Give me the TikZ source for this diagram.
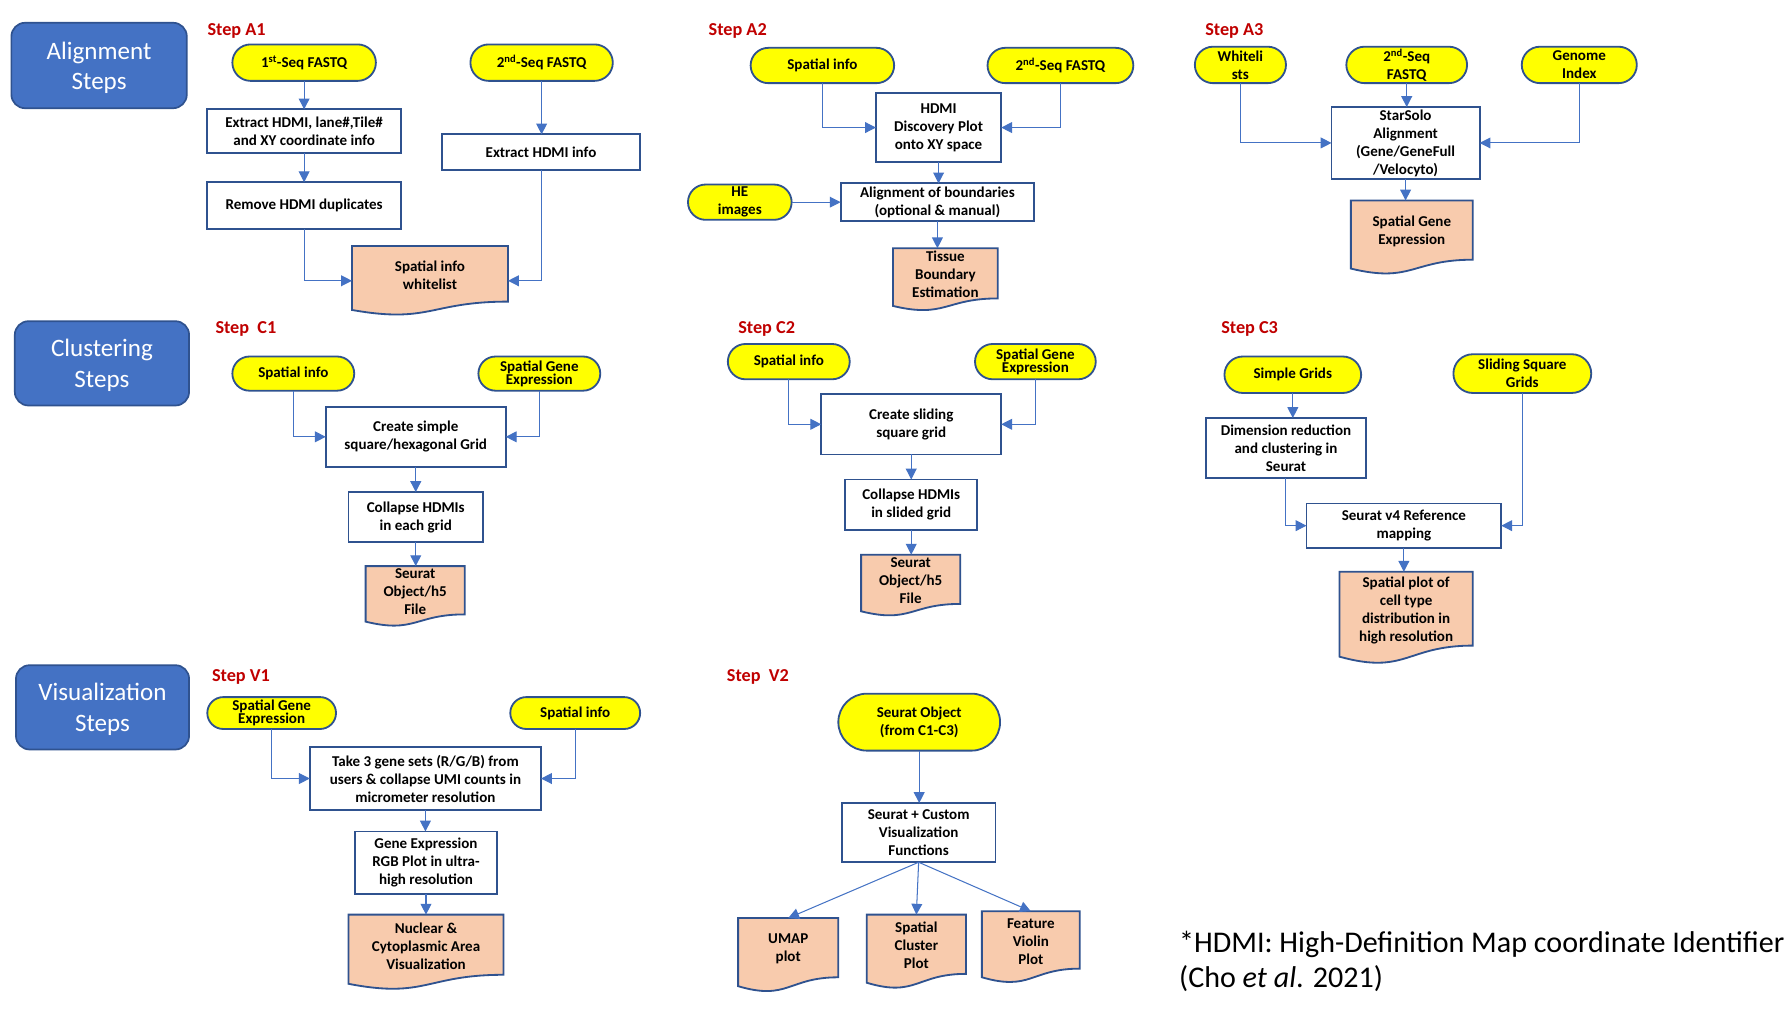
\documentclass[tikz,border=0pt]{standalone}
\usepackage{fontspec}
\setmainfont{Carlito}
\usetikzlibrary{shapes.misc,arrows.meta,calc}
\definecolor{bord}{HTML}{2F528F}
\definecolor{catblue}{HTML}{4472C4}
\definecolor{arrc}{HTML}{4472C4}
\definecolor{peach}{HTML}{F8CBAD}
\definecolor{stepred}{HTML}{C00000}
\definecolor{termy}{HTML}{FFFF00}
\newcommand{\boxfont}{\fontsize{13.2}{15.8}\selectfont\bfseries}
\newcommand{\tightfont}{\fontsize{13.2}{11.5}\selectfont\bfseries\lineskiplimit=-6pt}
\newcommand{\catfont}{\fontsize{22}{27}\selectfont}
\newcommand{\stepfont}{\fontsize{16}{19}\selectfont\bfseries}
\newcommand{\capfont}{\fontsize{26.4}{31}\selectfont}
\tikzset{
  catbox/.style={rectangle, rounded corners=12pt, fill=catblue, draw=bord, line width=1.5pt, inner sep=0pt, outer sep=0pt},
  cattext/.style={text=white, font=\catfont, align=center, inner sep=0pt},
  steplbl/.style={anchor=west, text=stepred, font=\stepfont, inner sep=0pt},
  term/.style={rounded rectangle, fill=termy, draw=bord, line width=1.6pt, font=\boxfont, align=center, inner sep=0pt, outer sep=0pt},
  tterm/.style={term, font=\tightfont},
  proc/.style={rectangle, fill=white, draw=bord, line width=1.6pt, font=\boxfont, align=center, inner sep=0pt, outer sep=0pt},
  docbb/.style={rectangle, draw=none, inner sep=0pt, outer sep=0pt},
  docshape/.style={fill=peach, draw=bord, line width=1.6pt, line join=miter},
  doctext/.style={font=\boxfont, align=center, inner sep=0pt},
  arr/.style={draw=arrc, line width=0.9pt, -{Triangle[length=9.5pt,width=9.5pt]}},
}
\newcommand{\docnode}[6]{%
  \node[docbb, minimum width=#4pt, minimum height=#5pt, anchor=north west] (#1) at (#2,#3) {};
  \draw[docshape] (#1.north west) -- (#1.north east) -- ($(#1.north east)!0.80!(#1.south east)$) .. controls ($(#1.north)!0.80!(#1.south)$) and ($(#1.north)!1.12!(#1.south)$) .. ($(#1.north west)!0.92!(#1.south west)$) -- cycle;
  \node[doctext] (#1t) at ($(#1.north)!0.42!(#1.south)$) {#6};
}
\begin{document}
\begin{tikzpicture}[x=1pt,y=-1pt]
\useasboundingbox[fill=white] (0,0) rectangle (1568,904);

% category boxes
\node[catbox, minimum width=154pt, minimum height=75pt] (cat1) at (87,57.5) {};
\node[cattext] (cat1t) at (87,59.5) {Alignment\\Steps};
\node[catbox, minimum width=153pt, minimum height=74pt] (cat2) at (89.5,319) {};
\node[cattext] (cat2t) at (89.5,321) {Clustering\\Steps};
\node[catbox, minimum width=152pt, minimum height=74pt] (cat3) at (90,621) {};
\node[cattext] (cat3t) at (90,623) {Visualization\\Steps};

% step labels
\node[steplbl] (sA1) at (182,27.5) {Step A1};
\node[steplbl] (sA2) at (622,27.5) {Step A2};
\node[steplbl] (sA3) at (1058,27.5) {Step A3};
\node[steplbl] (sC1) at (189,288.5) {Step\ \ C1};
\node[steplbl] (sC2) at (648,288.5) {Step C2};
\node[steplbl] (sC3) at (1072,288.5) {Step C3};
\node[steplbl] (sV1) at (186,594.5) {Step V1};
\node[steplbl] (sV2) at (638,594.5) {Step\ \ V2};

% ---------- A1
\node[term, minimum width=126pt, minimum height=32pt] (t1) at (267,55) {1\textsuperscript{st}-Seq FASTQ};
\node[term, minimum width=125pt, minimum height=32pt] (t2) at (475.5,55) {2\textsuperscript{nd}-Seq FASTQ};
\node[proc, minimum width=170pt, minimum height=38pt] (p1) at (267,115) {Extract HDMI, lane\#,Tile\#\\and XY coordinate info};
\node[proc, minimum width=170pt, minimum height=41pt] (p2) at (267,180.5) {Remove HDMI duplicates};
\node[proc, minimum width=174pt, minimum height=31pt] (p3) at (475,133.5) {Extract HDMI info};
\docnode{d1}{309}{216}{137}{61}{Spatial info\\whitelist}
\draw[arr] (t1) -- (p1);
\draw[arr] (p1) -- (p2);
\draw[arr] (t2.south) -- (t2.south |- p3.north);
\draw[arr] (p2.south) |- (d1.west);
\draw[arr] (p3.south) |- (d1.east);

% ---------- A2
\node[term, minimum width=126pt, minimum height=31pt] (a2s) at (722,57.5) {Spatial info};
\node[term, minimum width=128pt, minimum height=31pt] (a2f) at (931,57.5) {2\textsuperscript{nd}-Seq FASTQ};
\node[proc, minimum width=110pt, minimum height=60pt] (a2h) at (824,112) {HDMI\\Discovery Plot\\onto XY space};
\node[term, minimum width=91pt, minimum height=31pt] (a2he) at (649.5,177.5) {HE\\images};
\node[proc, minimum width=170pt, minimum height=33pt] (a2a) at (823,177.5) {Alignment of boundaries\\(optional \& manual)};
\docnode{d2}{784}{218}{92}{55}{Tissue\\Boundary\\Estimation}
\draw[arr] (a2s.south) |- (a2h.west);
\draw[arr] (a2f.south) |- (a2h.east);
\draw[arr] (a2h.south) -- (a2h.south |- a2a.north);
\draw[arr] (a2he.east) -- (a2a.west);
\draw[arr] (a2a.south) -- (a2a.south |- d2.north);

% ---------- A3
\node[term, minimum width=80pt, minimum height=32pt] (a3w) at (1089,57) {Whiteli\\sts};
\node[term, minimum width=106pt, minimum height=32pt] (a3f) at (1235,57) {2\textsuperscript{nd}-Seq\\FASTQ};
\node[term, minimum width=101pt, minimum height=32pt] (a3g) at (1386.5,57) {Genome\\Index};
\node[proc, minimum width=130pt, minimum height=63pt] (a3s) at (1234,125.5) {StarSolo\\Alignment\\(Gene/GeneFull\\/Velocyto)};
\docnode{d3}{1186}{176}{107}{65}{Spatial Gene\\Expression}
\draw[arr] (a3w.south) |- (a3s.west);
\draw[arr] (a3g.south) |- (a3s.east);
\draw[arr] (a3f.south) -- (a3f.south |- a3s.north);
\draw[arr] (a3s.south) -- (a3s.south |- d3.north);

% ---------- C1
\node[term, minimum width=107pt, minimum height=30pt] (c1s) at (257.5,328) {Spatial info};
\node[tterm, minimum width=107pt, minimum height=30pt] (c1g) at (473.5,328) {Spatial Gene\\Expression};
\node[proc, minimum width=158pt, minimum height=53pt] (c1c) at (365,383.5) {Create simple\\square/hexagonal Grid};
\node[proc, minimum width=118pt, minimum height=44pt] (c1h) at (365,454) {Collapse HDMIs\\in each grid};
\docnode{d4}{321}{497}{87}{53}{Seurat\\Object/h5\\File}
\draw[arr] (c1s.south) |- (c1c.west);
\draw[arr] (c1g.south) |- (c1c.east);
\draw[arr] (c1c) -- (c1h);
\draw[arr] (c1h.south) -- (c1h.south |- d4.north);

% ---------- C2
\node[term, minimum width=107pt, minimum height=31pt] (c2s) at (692.5,317.5) {Spatial info};
\node[tterm, minimum width=106pt, minimum height=31pt] (c2g) at (909,317.5) {Spatial Gene\\Expression};
\node[proc, minimum width=158pt, minimum height=53pt] (c2c) at (800,372.5) {Create sliding\\square grid};
\node[proc, minimum width=116pt, minimum height=44pt] (c2h) at (800,443) {Collapse HDMIs\\in slided grid};
\docnode{d5}{756}{487}{87}{54}{Seurat\\Object/h5\\File}
\draw[arr] (c2s.south) |- (c2c.west);
\draw[arr] (c2g.south) |- (c2c.east);
\draw[arr] (c2c) -- (c2h);
\draw[arr] (c2h.south) -- (c2h.south |- d5.north);

% ---------- C3
\node[term, minimum width=120pt, minimum height=32pt] (c3s) at (1135,329) {Simple Grids};
\node[term, minimum width=121pt, minimum height=34pt] (c3l) at (1336.5,328) {Sliding Square\\Grids};
\node[proc, minimum width=140pt, minimum height=53pt] (c3d) at (1129,393.5) {Dimension reduction\\and clustering in\\Seurat};
\node[proc, minimum width=171pt, minimum height=39pt] (c3r) at (1232.5,461.5) {Seurat v4 Reference\\mapping};
\docnode{d6}{1176}{502}{117}{81}{Spatial plot of\\cell type\\distribution in\\high resolution}
\draw[arr] (c3s.south) -- (c3s.south |- c3d.north);
\draw[arr] (c3d.south) |- (c3r.west);
\draw[arr] (c3l.south) |- (c3r.east);
\draw[arr] (c3r.south) -- (c3r.south |- d6.north);

% ---------- V1
\node[tterm, minimum width=113pt, minimum height=28pt] (v1g) at (238.5,626) {Spatial Gene\\Expression};
\node[term, minimum width=114pt, minimum height=28pt] (v1s) at (505,626) {Spatial info};
\node[proc, minimum width=203pt, minimum height=55pt] (v1t) at (373.5,683.5) {Take 3 gene sets (R/G/B) from\\users \& collapse UMI counts in\\micrometer resolution};
\node[proc, minimum width=124pt, minimum height=55pt] (v1r) at (374,757.5) {Gene Expression\\RGB Plot in ultra-\\high resolution};
\docnode{d7}{306}{803}{136}{66}{Nuclear \&\\Cytoplasmic Area\\Visualization}
\draw[arr] (v1g.south) |- (v1t.west);
\draw[arr] (v1s.south) |- (v1t.east);
\draw[arr] (v1t.south) -- (v1t.south |- v1r.north);
\draw[arr] (v1r.south) -- (v1r.south |- d7.north);

% ---------- V2
\node[term, minimum width=142pt, minimum height=50pt] (v2o) at (807,634) {Seurat Object\\(from C1-C3)};
\node[proc, minimum width=135pt, minimum height=52pt] (v2f) at (806.5,731) {Seurat + Custom\\Visualization\\Functions};
\docnode{d8}{648}{806}{88}{65}{UMAP\\plot}
\docnode{d9}{761}{803}{87}{65}{Spatial\\Cluster\\Plot}
\docnode{d10}{862}{800}{86}{63}{Feature\\Violin\\Plot}
\draw[arr] (v2o.south) -- (v2o.south |- v2f.north);
\draw[arr] (v2f.south) -- (d8.north);
\draw[arr] (v2f.south) -- (d9.north);
\draw[arr] (v2f.south) -- (d10.north);

% caption
\node[anchor=west, align=left, font=\capfont, inner sep=0pt] (cap) at (1035,844) {*HDMI: High-Definition Map coordinate Identifier\\(Cho \textit{et al}. 2021)};
\end{tikzpicture}
\end{document}
